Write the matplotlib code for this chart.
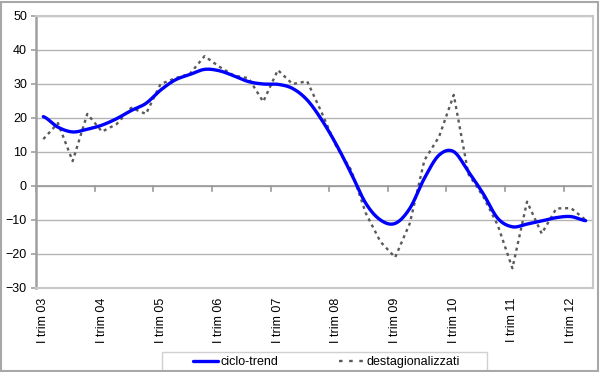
import matplotlib
matplotlib.use("Agg")
import matplotlib.pyplot as plt
import matplotlib.patches as mpatches
from matplotlib.transforms import blended_transform_factory
import numpy as np

plt.rcParams['font.family'] = ['Liberation Sans', 'DejaVu Sans']

# 38 quarters: 2003 Q1 .. 2012 Q2
years = ["03", "04", "05", "06", "07", "08", "09", "10", "11", "12"]
quarters = ["I", "II", "III", "IV"]
categories = [f"{q} trim {y}" for y in years for q in quarters][:38]

ciclo_trend = [20.4, 17.3, 15.9, 16.7, 17.9, 19.8, 22.2, 24.3, 28.2, 31.2,
               32.8, 34.3, 33.9, 32.4, 30.7, 30.0, 29.9, 28.7, 25.3, 19.4,
               12.1, 3.7, -5.1, -10.0, -11.0, -6.6, 2.3, 9.1, 10.1, 4.2,
               -2.2, -9.5, -12.0, -11.2, -10.3, -9.3, -9.0, -10.2]

destagionalizzati = [13.8, 18.5, 7.3, 21.2, 16.0, 18.2, 23.0, 21.2, 30.0, 31.7,
                     33.0, 38.2, 35.1, 32.5, 31.7, 24.8, 34.1, 30.0, 30.8, 21.5,
                     11.5, 4.7, -8.0, -16.4, -21.0, -11.0, 7.6, 14.5, 26.8, 3.5,
                     -3.0, -11.5, -24.2, -4.6, -14.0, -6.6, -6.5, -10.0]

labels_shown = [c for c in categories if c.startswith("I trim")]


def catmull_rom(y, n=20):
    y = np.asarray(y, dtype=float)
    p = np.concatenate([[y[0]], y, [y[-1]]])
    xs, ys = [], []
    for i in range(len(y) - 1):
        p0, p1, p2, p3 = p[i], p[i + 1], p[i + 2], p[i + 3]
        t = np.linspace(0, 1, n, endpoint=False)
        c1 = p1 + (p2 - p0) / 6.0
        c2 = p2 - (p3 - p1) / 6.0
        yy = ((1 - t) ** 3) * p1 + 3 * ((1 - t) ** 2) * t * c1 + 3 * (1 - t) * t ** 2 * c2 + t ** 3 * p2
        xs.append(i + t)
        ys.append(yy)
    xs.append([len(y) - 1])
    ys.append([y[-1]])
    return np.concatenate(xs), np.concatenate(ys)


fig = plt.figure(figsize=(6.0, 3.72), dpi=100)
W, H = 600, 372
ax = fig.add_axes([36 / W, 1 - 288 / H, (593 - 36) / W, (288 - 16) / H])

x = np.arange(len(categories))
ax.set_xlim(-0.5, len(categories) - 0.5)
ax.set_ylim(-30, 50)
ax.set_yticks(np.arange(-30, 51, 10))

# gridlines
ax.yaxis.grid(True, color='#b4b4b4', linewidth=1.0)
ax.set_axisbelow(True)

xs, ys = catmull_rom(ciclo_trend)
l1, = ax.plot(xs, ys, color='#0000ff', linewidth=2.4, solid_capstyle='round',
              label='ciclo-trend', zorder=4)
l2, = ax.plot(x, destagionalizzati, color='#5a5a5a', linewidth=1.7,
              linestyle=(0, (1.3, 1.6)), label='destagionalizzati', zorder=3)

# horizontal category axis crossing at 0
ax.axhline(0, color='#9a9a9a', linewidth=1.2, zorder=2)
trans = blended_transform_factory(ax.transData, ax.transAxes)
for b in np.arange(-0.5, len(categories), 4):
    ax.plot([b, b], [0, -1.4], color='#9a9a9a', linewidth=1.2, clip_on=False, zorder=2)

ax.set_xticks([])
for i, c in enumerate(categories):
    if c in labels_shown:
        ax.text(i, -10 / 272, c, transform=trans, rotation=90, ha='center',
                va='top', fontsize=9, color='black')

for s in ['top', 'right', 'bottom']:
    ax.spines[s].set_color('#c8c8c8')
    ax.spines[s].set_linewidth(1.5)
ax.spines['left'].set_color('#a0a0a0')
ax.spines['left'].set_linewidth(1.8)
ax.tick_params(axis='y', direction='out', length=3.5, width=1.2, color='#a0a0a0',
               labelsize=9, pad=3, labelcolor='black')

# legend box
fig.patches.append(mpatches.Rectangle((162 / W, 1 - 371 / H), (487 - 162) / W, 19 / H,
                                      transform=fig.transFigure, facecolor='white',
                                      edgecolor='#d0d0d0', linewidth=1.0, zorder=1))
h2 = plt.Line2D([], [], color='#5a5a5a', linewidth=1.7, linestyle=(0, (1.5, 2.8)))
leg = fig.legend(handles=[l1, h2], labels=['ciclo-trend', 'destagionalizzati'],
                 loc='center', bbox_to_anchor=(326 / W, 1 - 362 / H),
                 ncol=2, frameon=False, fontsize=9, handlelength=2.0,
                 handletextpad=0.2, columnspacing=4.85, borderpad=0.0)

# figure border
fig.patches.append(mpatches.Rectangle((0.5 / W, 1.5 / H), 597.5 / W, 369 / H,
                                      transform=fig.transFigure, facecolor='none',
                                      edgecolor='#a8a8a8', linewidth=1.5, zorder=10))

fig.savefig('out.png', dpi=100)
